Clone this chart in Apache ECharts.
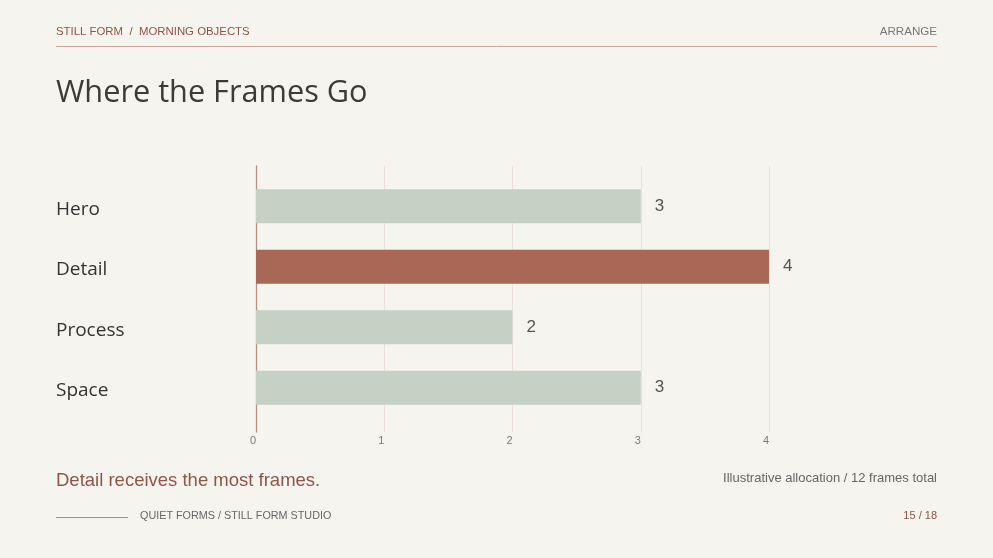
<!DOCTYPE html>
<html><head><meta charset="utf-8">
<script src="https://cdn.jsdelivr.net/npm/echarts@6/dist/echarts.min.js"></script>
<style>html,body{margin:0;padding:0;background:#f6f4ef}#c{width:993px;height:558px}</style>
</head><body><div id="c"></div>
<script>
const categories = ['Hero', 'Detail', 'Process', 'Space'];
const frames = [3, 4, 2, 3];
const highlight = 'Detail';
const xMax = 4;

const sage = '#c5d1c4', rust = '#a96855';
const chart = echarts.init(document.getElementById('c'));
const sans = '"Liberation Sans", Arial, sans-serif';
const human = '"Open Sans", "Noto Sans", sans-serif';
const t = (text, pos, size, color, fam) => Object.assign({text, padding: 0, textStyle: {fontFamily: fam || sans, fontSize: size, fontWeight: 'normal', color}}, pos);
chart.setOption({
  backgroundColor: '#f6f4ef',
  animation: false,
  title: [
    t('STILL FORM  /  MORNING OBJECTS', {left: 56, top: 26}, 11.4, '#8b5545'),
    t('ARRANGE', {right: 56, top: 26}, 11.6, '#777'),
    t('Where the Frames Go', {left: 56, top: 78}, 30.7, '#3b3b38', human),
    t('Detail receives the most frames.', {left: 56, top: 471}, 18.5, '#8e5647'),
    t('Illustrative allocation / 12 frames total', {right: 56, top: 472}, 13, '#666'),
    t('QUIET FORMS / STILL FORM STUDIO', {left: 140, top: 511}, 10.8, '#666'),
    t('15 / 18', {right: 56, top: 510}, 11, '#8b5545')
  ],
  graphic: [
    {type: 'line', shape: {x1: 56, y1: 46.5, x2: 937, y2: 46.5}, style: {stroke: '#c9a49a', lineWidth: 1}},
    {type: 'line', shape: {x1: 56, y1: 517.5, x2: 128, y2: 517.5}, style: {stroke: '#b98a7c', lineWidth: 1}}
  ],
  grid: [
    {left: 256, top: 166, width: 513, height: 266},
    {left: 256, top: 176, width: 513, height: 242}
  ],
  xAxis: [
    {
      gridIndex: 0, type: 'value', min: 0, max: xMax, interval: 1,
      axisLine: {show: false}, axisTick: {show: false},
      splitLine: {show: true, lineStyle: {color: '#ede0da', width: 1}},
      axisLabel: {color: '#7a7a7a', fontSize: 11, fontFamily: sans, margin: 3, padding: [0, 6, 0, 0]}
    },
    {
      gridIndex: 1, type: 'value', min: 0, max: xMax, interval: 1,
      axisLine: {show: false}, axisTick: {show: false}, splitLine: {show: false}, axisLabel: {show: false}
    }
  ],
  yAxis: [
    {
      gridIndex: 0, type: 'category', data: [''],
      axisLine: {show: true, lineStyle: {color: '#b98f86', width: 1.3}},
      axisTick: {show: false}, splitLine: {show: false}, axisLabel: {show: false}
    },
    {
      gridIndex: 1, type: 'category', inverse: true, data: categories,
      axisLine: {show: false}, axisTick: {show: false}, splitLine: {show: false},
      axisLabel: {align: 'left', verticalAlign: 'top', lineHeight: 6, margin: 200, color: '#333', fontSize: 19, fontFamily: human}
    }
  ],
  series: [{
    type: 'bar', xAxisIndex: 1, yAxisIndex: 1, barWidth: 34,
    data: frames.map((v, i) => ({value: v, itemStyle: {color: categories[i] === highlight ? rust : sage}})),
    label: {show: true, position: 'right', distance: 14, color: '#555', fontSize: 17, fontFamily: sans}
  }]
});
</script></body></html>
